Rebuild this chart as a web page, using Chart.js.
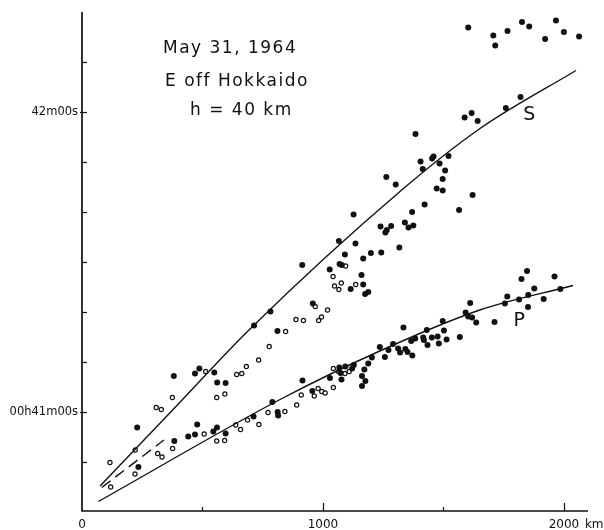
<!DOCTYPE html>
<html lang="en">
<head>
<meta charset="UTF-8">
<title>May 31, 1964 E off Hokkaido</title>
<script src="https://cdn.jsdelivr.net/npm/chart.js"></script>
<style>
  html, body { margin: 0; padding: 0; background: #fff; }
  canvas { display: block; }
</style>
</head>
<body>
<canvas id="myChart" width="604" height="530"></canvas>
<script>
// distance in km, arrival time in seconds after 00h40m00s
const sFilled = [
  [1603,136.9],[1707,135.3],[1715,133.3],[1766,136.2],[1826,138.0],[1856,137.1],[1922,134.6],[1967,138.3],[2000,136.0],[2063,135.1],
  [1588,118.9],[1617,119.8],[1642,118.2],[1759,120.8],[1820,123.0],[1384,115.6],
  [1405,110.1],[1414,108.6],[1453,110.7],[1459,111.1],[1484,109.7],[1521,111.2],[1507,108.3],[1497,106.6],[1472,104.7],[1497,104.3],
  [1422,101.5],[1370,100.0],[1340,97.9],[1355,96.9],[1375,97.3],[1317,92.9],[1565,100.4],[1621,103.4],[1263,107.0],[1302,105.5],
  [1127,99.5],[1066,94.2],[1135,93.7],[914,89.4],[1091,91.5],[1069,89.6],[1078,89.4],[1028,88.5],[1115,84.6],[1160,87.4],
  [1167,85.5],[1175,83.6],[1188,84.0],[1167,90.7],[1199,91.8],[1242,91.9],[1239,97.1],[1259,95.9],[1265,96.4],[1283,97.2],
  [958,81.7],[782,80.1],[714,77.3],[811,76.2],
  [229,56.9],[381,67.2],[469,67.7],[487,68.7],[549,67.9],[561,65.9],[596,65.8]
]
const sOpen = [
  [116,49.9],[221,52.4],[308,60.9],[329,60.5],[375,62.9],[513,68.1],[559,62.9],[593,63.6],[642,67.5],[663,67.7],
  [682,69.1],[733,70.4],[777,73.1],[845,76.1],[888,78.5],[919,78.3],[982,78.3],[994,79.0],[1019,80.4],[968,81.1],
  [1042,87.1],[1076,85.8],[1048,85.2],[1066,84.5],[1136,85.5],[1094,89.2]
]
const pFilled = [
  [234,49.0],[383,54.2],[441,55.1],[469,55.5],[478,57.5],[545,56.1],[560,56.9],[596,55.7],[712,59.1],[790,62.0],
  [812,60.0],[814,59.3],[915,66.3],[956,64.2],[1029,66.8],[1068,68.9],[1093,69.1],[1073,67.8],[1077,66.5],[1128,69.4],
  [1121,68.7],[1162,67.2],[1172,68.5],[1188,69.7],[1203,70.9],[1162,65.2],[1176,66.2],[1236,73.0],[1257,71.0],[1272,72.4],
  [1291,73.6],[1312,72.7],[1320,71.9],[1334,76.9],[1342,72.6],[1351,72.0],[1371,71.3],[1366,74.2],[1383,74.7],[1416,74.9],
  [1419,74.4],[1431,76.4],[1434,73.4],[1452,74.9],[1476,75.1],[1481,73.7],[1502,76.3],[1513,74.5],[1497,78.2],[1568,75.0],
  [1592,79.9],[1603,79.1],[1619,78.9],[1611,81.8],[1636,77.9],[1712,78.0],[1755,81.7],[1765,83.1],[1814,82.5],[1824,86.6],
  [1847,88.2],[1852,83.4],[1851,81.0],[1877,84.7],[1916,82.6],[1961,87.1],[1985,84.6]
]
const pOpen = [
  [119,45.0],[220,47.6],[314,51.7],[332,51.0],[376,52.7],[507,55.6],[559,54.2],[592,54.3],[638,57.4],[658,56.5],
  [687,58.4],[734,57.5],[772,59.9],[842,60.1],[891,61.4],[910,63.4],[964,63.2],[980,64.7],[995,64.1],[1009,63.8],
  [1043,64.9],[1043,68.7],[1065,68.1],[1091,67.7],[1109,68.1]
]
// travel time curves as drawn on the sheet
const sCurve = [[75,45.2],[386,60.9],[693,76.4],[1327,104.4],[1652,116.7],[2050,128.3]]
const pCurve = [[68,42.1],[822,62.5],[1236,72.2],[1651,80.4],[2038,85.3]]
const branchCurve = [[82,44.9],[340,54.4]]

const xTicks = [500, 1000, 1500, 2000]
const xMajor = [1000, 2000]
const xTickValues = [0, 1000, 2000]
const xTickLabels = ['0', '1000', '2000']
const xUnit = 'km'
const yTicks = [50, 60, 70, 80, 90, 100, 110, 120, 130]
const yTickValues = [60, 120]
const yTickLabels = ['00h41m00s', '42m00s']
const titleLines = ['May 31, 1964', 'E off Hokkaido', 'h = 40 km']
const phaseLabels = [['S', 1856, 119.3], ['P', 1815, 78.1]]

const ink = '#111'
function pts(arr) { return arr.map(p => ({ x: p[0], y: p[1] })) }

const paperAxes = {
  id: 'paperAxes',
  afterDraw(chart) {
    const { ctx, chartArea: a } = chart
    const x = chart.scales.x, y = chart.scales.y
    ctx.save()
    ctx.strokeStyle = ink
    ctx.fillStyle = ink
    ctx.lineWidth = 1.7
    ctx.beginPath()
    ctx.moveTo(a.left, a.top)
    ctx.lineTo(a.left, a.bottom - 1)
    ctx.lineTo(a.right, a.bottom - 1)
    ctx.stroke()

    ctx.lineWidth = 1.2
    yTicks.forEach(v => {
      const py = Math.round(y.getPixelForValue(v)) + 0.5
      ctx.beginPath()
      ctx.moveTo(a.left - (yTickValues.includes(v) ? 2 : 0), py)
      ctx.lineTo(a.left + 5, py)
      ctx.stroke()
    })
    xTicks.forEach(v => {
      const px = Math.round(x.getPixelForValue(v)) + 0.5
      ctx.beginPath()
      ctx.moveTo(px, a.bottom - 1)
      ctx.lineTo(px, a.bottom - 1 - (xMajor.includes(v) ? 8 : 4))
      ctx.stroke()
    })

    // tick labels
    ctx.font = '11.5px "DejaVu Sans"'
    ctx.textAlign = 'right'
    ctx.textBaseline = 'middle'
    yTickValues.forEach((v, i) => {
      ctx.fillText(yTickLabels[i], a.left - 4, y.getPixelForValue(v))
    })
    ctx.font = '12px "DejaVu Sans"'
    ctx.textAlign = 'center'
    ctx.textBaseline = 'alphabetic'
    xTickValues.forEach((v, i) => {
      ctx.fillText(xTickLabels[i], x.getPixelForValue(v), 528)
    })
    const last = xTickValues[xTickValues.length - 1]
    ctx.textAlign = 'left'
    ctx.fillText(xUnit, x.getPixelForValue(last) + 21, 528)

    // phase labels
    ctx.font = '19px "DejaVu Sans"'
    ctx.textAlign = 'center'
    ctx.textBaseline = 'middle'
    phaseLabels.forEach(l => {
      ctx.fillText(l[0], x.getPixelForValue(l[1]), y.getPixelForValue(l[2]))
    })

    // heading block
    ctx.font = '17px "DejaVu Sans"'
    ctx.textAlign = 'left'
    ctx.textBaseline = 'alphabetic'
    ctx.letterSpacing = '1.5px'
    const starts = [[163, 53], [165, 86], [190, 115]]
    titleLines.forEach((t, i) => {
      ctx.fillText(t, starts[i][0], starts[i][1])
    })
    ctx.restore()
  }
}

const ctx = document.getElementById('myChart').getContext('2d')
new Chart(ctx, {
  type: 'scatter',
  data: {
    datasets: [
      { label: 'S', data: pts(sCurve), showLine: true, borderColor: ink, borderWidth: 1.4,
        pointRadius: 0, cubicInterpolationMode: 'monotone', fill: false },
      { label: 'P', data: pts(pCurve), showLine: true, borderColor: ink, borderWidth: 1.4,
        pointRadius: 0, cubicInterpolationMode: 'monotone', fill: false },
      { label: 'branch', data: pts(branchCurve), showLine: true, borderColor: ink, borderWidth: 1.4,
        borderDash: [11, 6], pointRadius: 0, fill: false },
      { label: 'S filled', data: pts(sFilled), pointRadius: 3, backgroundColor: ink, borderWidth: 0 },
      { label: 'S open', data: pts(sOpen), pointRadius: 2.1, backgroundColor: '#fff', borderColor: ink, borderWidth: 1.2 },
      { label: 'P filled', data: pts(pFilled), pointRadius: 3, backgroundColor: ink, borderWidth: 0 },
      { label: 'P open', data: pts(pOpen), pointRadius: 2.1, backgroundColor: '#fff', borderColor: ink, borderWidth: 1.2 }
    ]
  },
  options: {
    responsive: false,
    animation: false,
    layout: { padding: { top: 12, right: 16, left: 0, bottom: 0 } },
    scales: {
      x: {
        type: 'linear', min: 0, max: 2100,
        grid: { display: false }, border: { display: false }, ticks: { display: false },
        afterFit: s => { s.height = 18 }
      },
      y: {
        type: 'linear', min: 40, max: 140,
        grid: { display: false }, border: { display: false }, ticks: { display: false },
        afterFit: s => { s.width = 82 }
      }
    },
    plugins: {
      legend: { display: false },
      tooltip: { enabled: false }
    }
  },
  plugins: [paperAxes]
})
</script>
</body>
</html>
